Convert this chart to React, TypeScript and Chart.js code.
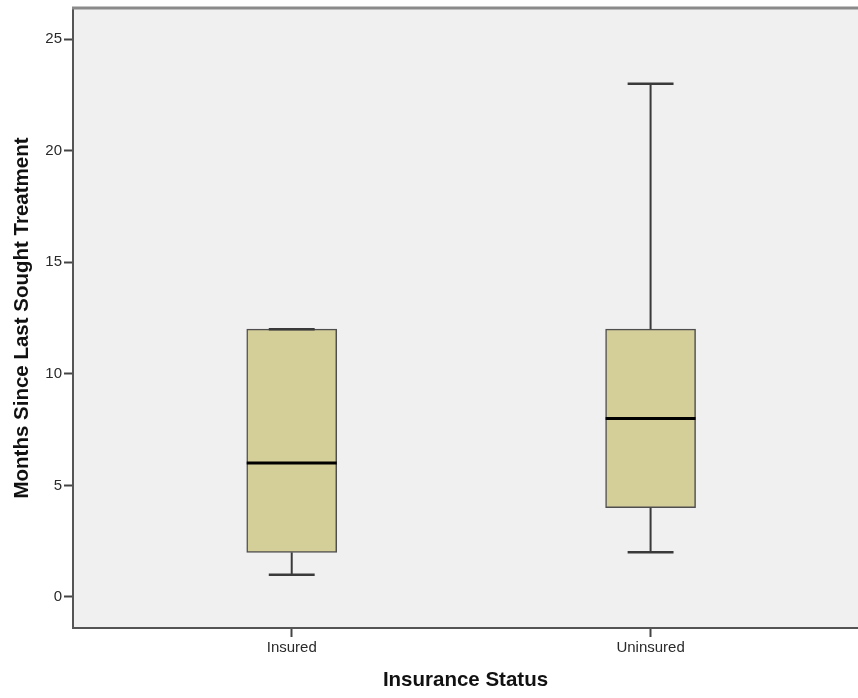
import React, { useEffect, useRef } from 'react';
import { Chart, registerables } from 'chart.js';

Chart.register(...registerables);

// ---- Data ----
const categories = ['Insured', 'Uninsured'];
const minValues = [1, 2];
const q1Values = [2, 4];
const medianValues = [6, 8];
const q3Values = [12, 12];
const maxValues = [12, 23];
const yTickValues = [0, 5, 10, 15, 20, 25];

const FONT = 'Arial, "Liberation Sans", Helvetica, sans-serif';

const boxExtras = {
  id: 'boxExtras',
  beforeDraw(chart: any) {
    const { ctx, chartArea } = chart;
    ctx.save();
    ctx.fillStyle = '#F0F0F0';
    ctx.fillRect(chartArea.left, chartArea.top, chartArea.right - chartArea.left, chartArea.bottom - chartArea.top);
    ctx.restore();
  },
  afterDatasetsDraw(chart: any) {
    const { ctx } = chart;
    const xs = chart.scales.x;
    const ys = chart.scales.y;
    const meta = chart.getDatasetMeta(0);
    ctx.save();
    categories.forEach((_c, i) => {
      const cx = xs.getPixelForValue(i);
      const half = meta.data[i].width / 2;
      const capHalf = half * 0.51;
      const yMin = ys.getPixelForValue(minValues[i]);
      const yQ1 = ys.getPixelForValue(q1Values[i]);
      const yMed = ys.getPixelForValue(medianValues[i]);
      const yQ3 = ys.getPixelForValue(q3Values[i]);
      const yMax = ys.getPixelForValue(maxValues[i]);
      // whiskers
      ctx.strokeStyle = '#3a3a3a';
      ctx.lineWidth = 2;
      ctx.beginPath();
      ctx.moveTo(cx, yQ3);
      ctx.lineTo(cx, yMax);
      ctx.moveTo(cx, yQ1);
      ctx.lineTo(cx, yMin);
      ctx.stroke();
      // caps
      ctx.lineWidth = 2.5;
      ctx.beginPath();
      ctx.moveTo(cx - capHalf, yMax);
      ctx.lineTo(cx + capHalf, yMax);
      ctx.moveTo(cx - capHalf, yMin);
      ctx.lineTo(cx + capHalf, yMin);
      ctx.stroke();
      // median
      ctx.strokeStyle = '#000000';
      ctx.lineWidth = 3;
      ctx.beginPath();
      ctx.moveTo(cx - half, yMed);
      ctx.lineTo(cx + half, yMed);
      ctx.stroke();
    });
    ctx.restore();
  },
  afterDraw(chart: any) {
    const { ctx, chartArea } = chart;
    ctx.save();
    ctx.strokeStyle = '#8a8a8a';
    ctx.lineWidth = 3;
    ctx.beginPath();
    ctx.moveTo(chartArea.left - 1, chartArea.top);
    ctx.lineTo(chartArea.right, chartArea.top);
    ctx.stroke();
    ctx.restore();
  },
};

export default function App() {
  const canvasRef = useRef<HTMLCanvasElement | null>(null);

  useEffect(() => {
    if (!canvasRef.current) return;
    const chart = new Chart(canvasRef.current, {
      type: 'bar',
      data: {
        datasets: [
          {
            data: categories.map((_c, i) => ({ x: i, y: [q1Values[i], q3Values[i]] })) as any,
            backgroundColor: '#D4CE98',
            borderColor: '#4f4f4f',
            borderWidth: 1.5,
            borderSkipped: false,
            barThickness: 90,
          },
        ],
      },
      options: {
        animation: false,
        responsive: false,
        events: [],
        layout: { padding: { top: 8, right: 0, bottom: 0, left: 0 } },
        plugins: {
          legend: { display: false },
          tooltip: { enabled: false },
        },
        scales: {
          x: {
            type: 'linear',
            offset: false,
            min: -0.6095,
            max: 1.578,
            afterBuildTicks: (s: any) => {
              s.ticks = categories.map((_c, i) => ({ value: i }));
            },
            afterFit: (s: any) => {
              s.height = 70;
              s.paddingLeft = 0;
              s.paddingRight = 0;
            },
            ticks: {
              callback: (v: any) => categories[v] ?? '',
              font: { family: FONT, size: 15 },
              color: '#2a2a2a',
              padding: 2,
              maxRotation: 0,
              autoSkip: false,
            },
            grid: {
              offset: false,
              drawOnChartArea: false,
              drawTicks: true,
              tickLength: 9,
              tickColor: '#444444',
              tickWidth: 2,
            },
            border: { display: true, color: '#555555', width: 2 },
            title: {
              display: true,
              text: 'Insurance Status',
              font: { family: FONT, size: 20.5, weight: 'bold', lineHeight: 1.2 },
              color: '#111111',
              padding: { top: 0, bottom: 5 },
            },
          },
          y: {
            type: 'linear',
            min: -1.389,
            max: 26.389,
            afterBuildTicks: (s: any) => {
              s.ticks = yTickValues.map((v) => ({ value: v }));
            },
            afterFit: (s: any) => {
              s.width = 73;
              s.paddingTop = 0;
              s.paddingBottom = 0;
            },
            ticks: {
              font: { family: FONT, size: 15 },
              color: '#2a2a2a',
              padding: 2,
            },
            grid: {
              drawOnChartArea: false,
              drawTicks: true,
              tickLength: 9,
              tickColor: '#444444',
              tickWidth: 2,
            },
            border: { display: true, color: '#555555', width: 2 },
            title: {
              display: true,
              text: 'Months Since Last Sought Treatment',
              font: { family: FONT, size: 20.5, weight: 'bold', lineHeight: 1.2 },
              color: '#111111',
              padding: { top: 10, bottom: 0 },
            },
          },
        },
      } as any,
      plugins: [boxExtras],
    });
    return () => chart.destroy();
  }, []);

  return (
    <div style={{ position: 'fixed', left: 0, top: 0, width: 858, height: 698, background: '#ffffff' }}>
      <canvas ref={canvasRef} width={858} height={698} style={{ display: 'block' }} />
    </div>
  );
}
